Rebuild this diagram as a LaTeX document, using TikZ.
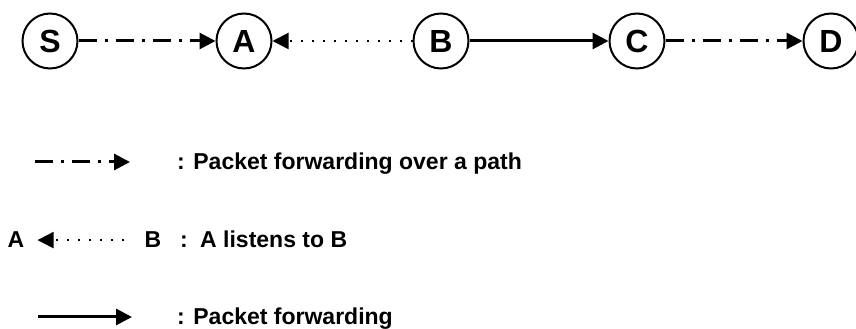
\documentclass[tikz,border=0pt]{standalone}
\usepackage{fontspec}
\setmainfont{Liberation Sans}
\usetikzlibrary{arrows.meta}

\begin{document}
\begin{tikzpicture}[x=1pt,y=1pt,
  host/.style={circle,draw,line width=2pt,minimum size=55pt,inner sep=0pt,
    font=\fontsize{32}{32}\selectfont\bfseries},
  fwd/.style={line width=3pt,-{Triangle[length=16pt,width=16pt]}},
  pathfwd/.style={fwd,dash pattern=on 18pt off 8pt on 3pt off 8pt},
  listen/.style={line width=2pt,dash pattern=on 2pt off 9pt,-{Triangle[length=16pt,width=16pt]}},
  legend/.style={anchor=base west,inner sep=0pt,font=\fontsize{23}{23}\selectfont\bfseries}]
\useasboundingbox (0,0) rectangle (856,329);
% the route S -> D
\node[host] (s) at (50,288) {S};
\node[host] (a) at (244,288) {A};
\node[host] (b) at (441,288) {B};
\node[host] (c) at (637,288) {C};
\node[host] (d) at (831,288) {D};
\draw[pathfwd] (s) -- (a);
\draw[listen] (b) -- (a);
\draw[fwd] (b) -- (c);
\draw[pathfwd] (c) -- (d);
% legend
\coordinate (p1) at (35,167);
\coordinate (p2) at (130,167);
\draw[pathfwd] (p1) -- (p2);
\node[legend] (t1) at (177,159) {: Packet forwarding over a path};
\node[legend,anchor=base] (la) at (16,81) {A};
\node[legend,anchor=base] (lb) at (153,81) {B};
\draw[listen,shorten >=13pt,shorten <=20pt] (lb) -- (la);
\node[legend] (t2) at (180,81) {:\, A listens to B};
\coordinate (q1) at (38,12);
\coordinate (q2) at (132,12);
\draw[fwd] (q1) -- (q2);
\node[legend] (t3) at (177,4) {: Packet forwarding};
\end{tikzpicture}
\end{document}
